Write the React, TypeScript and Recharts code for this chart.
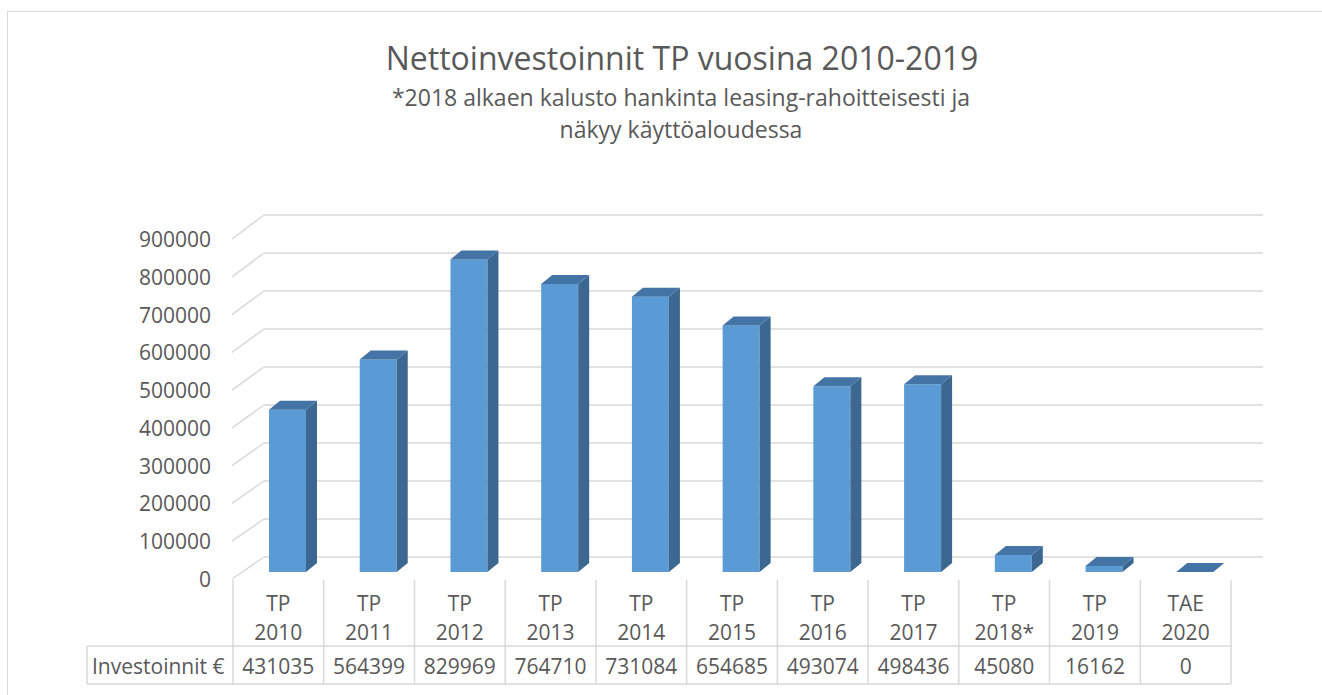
import React from "react";
import { BarChart, Bar, XAxis, YAxis, CartesianGrid } from "recharts";

const categories = ["TP 2010", "TP 2011", "TP 2012", "TP 2013", "TP 2014", "TP 2015", "TP 2016", "TP 2017", "TP 2018*", "TP 2019", "TAE 2020"];
const investoinnit = [431035, 564399, 829969, 764710, 731084, 654685, 493074, 498436, 45080, 16162, 0];
const yTicks = [0, 100000, 200000, 300000, 400000, 500000, 600000, 700000, 800000, 900000];
const seriesName = "Investoinnit €";
const title = "Nettoinvestoinnit TP vuosina 2010-2019";
const subtitle1 = "*2018 alkaen kalusto hankinta leasing-rahoitteisesti ja";
const subtitle2 = "näkyy käyttöaloudessa";

const data = categories.map((c, i) => ({ name: c, value: investoinnit[i] }));

const W = 1322;
const H = 695;
const PLOT_L = 233;
const PLOT_R = 1231;
const PLOT_T = 233;
const PLOT_B = 572;
const BAND = (PLOT_R - PLOT_L) / categories.length;
const FONT = "'Open Sans', 'Noto Sans', sans-serif";
const TXT = "#595959";
const GRID = "#D9D9D9";
const DX = 11;
const DY = 9;
const SHIFT = 9;
const FS = 21;

const Bar3D = (props: any) => {
  const { x, y, width, height } = props;
  if (x == null || y == null) return null;
  const fx = x + SHIFT;
  const h = Math.max(0, height || 0);
  const top = y;
  const bottom = y + h;
  return (
    <g>
      {h > 0 && <rect x={fx} y={top} width={width} height={h} fill="#5B9BD5" />}
      {h > 0 && (
        <polygon
          points={`${fx + width},${top} ${fx + width + DX},${top - DY} ${fx + width + DX},${bottom - DY} ${fx + width},${bottom}`}
          fill="#3B6790"
        />
      )}
      <polygon
        points={`${fx},${top} ${fx + DX},${top - DY} ${fx + width + DX},${top - DY} ${fx + width},${top}`}
        fill="#4474A5"
      />
    </g>
  );
};

const GridLine = (props: any) => {
  const { y1 } = props;
  if (y1 == null) return <g />;
  const yBack = 557 + (y1 - PLOT_B) * (342 / 339);
  const yFront = 579 + (y1 - PLOT_B) * (340 / 339);
  return (
    <g>
      <line x1={232} y1={yFront} x2={264} y2={yBack} stroke={GRID} strokeWidth={1.5} />
      <line x1={264} y1={yBack} x2={1263} y2={yBack} stroke={GRID} strokeWidth={1.5} />
    </g>
  );
};

const YTick = (props: any) => {
  const { y, payload } = props;
  const yLabel = 579 + (y - PLOT_B) * (340 / 339);
  return (
    <text x={211} y={yLabel} textAnchor="end" dominantBaseline="central" fontFamily={FONT} fontSize={FS} fill={TXT}>
      {payload.value}
    </text>
  );
};

const XTick = (props: any) => {
  const { x, index } = props;
  const parts = String(categories[index]).split(" ");
  const left = x - BAND / 2;
  const right = x + BAND / 2;
  return (
    <g>
      {index === 0 && (
        <g>
          <line x1={87} y1={646} x2={left} y2={646} stroke={GRID} strokeWidth={1.5} />
          <line x1={87} y1={684} x2={left} y2={684} stroke={GRID} strokeWidth={1.5} />
          <line x1={87} y1={646} x2={87} y2={684} stroke={GRID} strokeWidth={1.5} />
          <text x={92} y={666} textAnchor="start" dominantBaseline="central" fontFamily={FONT} fontSize={FS} fill={TXT}>
            {seriesName}
          </text>
        </g>
      )}
      <line x1={left} y1={580} x2={left} y2={684} stroke={GRID} strokeWidth={1.5} />
      {index === categories.length - 1 && (
        <line x1={right} y1={580} x2={right} y2={684} stroke={GRID} strokeWidth={1.5} />
      )}
      <line x1={left} y1={646} x2={right} y2={646} stroke={GRID} strokeWidth={1.5} />
      <line x1={left} y1={684} x2={right} y2={684} stroke={GRID} strokeWidth={1.5} />
      <text x={x} y={603} textAnchor="middle" dominantBaseline="central" fontFamily={FONT} fontSize={FS} fill={TXT}>
        {parts[0]}
      </text>
      <text x={x} y={632} textAnchor="middle" dominantBaseline="central" fontFamily={FONT} fontSize={FS} fill={TXT}>
        {parts[1]}
      </text>
      <text x={x} y={666} textAnchor="middle" dominantBaseline="central" fontFamily={FONT} fontSize={FS} fill={TXT}>
        {investoinnit[index]}
      </text>
    </g>
  );
};

export default function App() {
  return (
    <div style={{ position: "absolute", left: 0, top: 0, width: W, height: H, background: "#fff", overflow: "hidden" }}>
      <div style={{ position: "absolute", left: 7, top: 11, width: W, height: H, border: `1.5px solid ${GRID}`, boxSizing: "border-box" }} />
      <svg style={{ position: "absolute", left: 0, top: 0 }} width={W} height={H}>
        <text x={682} y={57} textAnchor="middle" dominantBaseline="central" fontFamily={FONT} fontSize={32} fill={TXT}>
          {title}
        </text>
        <text x={681} y={97} textAnchor="middle" dominantBaseline="central" fontFamily={FONT} fontSize={23} fill={TXT}>
          {subtitle1}
        </text>
        <text x={681} y={129} textAnchor="middle" dominantBaseline="central" fontFamily={FONT} fontSize={23} fill={TXT}>
          {subtitle2}
        </text>
      </svg>
      <div style={{ position: "absolute", left: 0, top: 0 }}>
        <BarChart
          width={W}
          height={H}
          data={data}
          margin={{ top: PLOT_T, right: W - PLOT_R, bottom: 0, left: PLOT_L - 100 }}
          barCategoryGap={0}
        >
          <CartesianGrid horizontal={GridLine as any} vertical={false} />
          <XAxis
            dataKey="name"
            axisLine={false}
            tickLine={false}
            height={H - PLOT_B}
            tick={XTick as any}
            interval={0}
          />
          <YAxis
            width={100}
            domain={[0, 900000]}
            ticks={yTicks}
            axisLine={false}
            tickLine={false}
            tick={YTick as any}
            interval={0}
          />
          <Bar dataKey="value" barSize={37} shape={Bar3D as any} isAnimationActive={false} />
        </BarChart>
      </div>
    </div>
  );
}
